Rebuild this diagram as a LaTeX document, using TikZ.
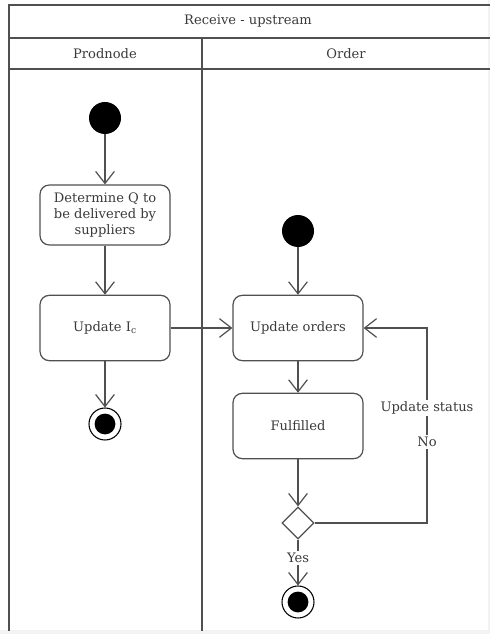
\documentclass[tikz,border=0pt]{standalone}
\usepackage{fontspec}
\setmainfont{DejaVu Serif}
\usetikzlibrary{arrows.meta,shapes.geometric}
\definecolor{ink}{HTML}{505050}
\definecolor{txt}{HTML}{3A3A3A}
\definecolor{edge}{HTML}{F3F3F3}
\tikzset{
  lane/.style={draw=ink, line width=1.1pt},
  act/.style={draw=ink, line width=0.9pt, rounded corners=7pt, fill=white,
    minimum width=97.5pt, text=txt, align=center, font=\fontsize{9.8}{12.2}\selectfont},
  startdot/.style={circle, fill=black, minimum size=24pt, inner sep=0pt},
  enddot/.style={circle, draw=black, line width=0.8pt, fill=white, minimum size=24pt, inner sep=0pt,
    path picture={\fill[black] (path picture bounding box.center) circle (7.8pt);}},
  choice/.style={diamond, draw=ink, line width=0.9pt, fill=white, minimum size=24pt, inner sep=0pt},
  flow/.style={draw=ink, line width=0.9pt, -{Straight Barb[length=9pt,width=14pt,line width=0.9pt]}},
  lbl/.style={text=txt, fill=white, inner sep=1.5pt, font=\fontsize{9.8}{12}\selectfont},
  hdr/.style={text=txt, font=\fontsize{9.8}{12}\selectfont}
}
\begin{document}
\begin{tikzpicture}[x=0.75pt, y=-0.75pt]
  \useasboundingbox (0,0) rectangle (490,634);
  \fill[white] (0,0) rectangle (490,634);
  % faint page edges
  \fill[edge] (0,630) rectangle (490,634);
  \fill[edge] (488,0) rectangle (490,634);

  % swimlane frame
  \draw[lane] (490,5) -- (9,5) -- (9,631);
  \draw[lane] (9,38) -- (490,38);
  \draw[lane] (9,69) -- (490,69);
  \draw[lane] (202,38) -- (202,631);
  \node[hdr] (title) at (248,21) {Receive - upstream};
  \node[hdr] (laneP) at (105,54) {Prodnode};
  \node[hdr] (laneO) at (346,54) {Order};

  % Prodnode lane
  \node[startdot] (s1) at (105,118) {};
  \node[act, minimum height=45pt] (det) at (105,215) {Determine Q to\\be delivered by\\suppliers};
  \node[act, minimum height=49pt] (upd) at (105,328) {Update I\textsubscript{c}};
  \node[enddot] (e1) at (105,424) {};

  % Order lane
  \node[startdot] (s2) at (298,231) {};
  \node[act, minimum height=49pt] (ord) at (298,328) {Update orders};
  \node[act, minimum height=49pt] (ful) at (298,426) {Fulfilled};
  \node[choice] (dec) at (298,523) {};
  \node[enddot] (e2) at (298,602) {};
  \coordinate (cor1) at (427,523);
  \coordinate (cor2) at (427,328);

  % flows
  \draw[flow] (s1) -- (det);
  \draw[flow] (det) -- (upd);
  \draw[flow] (upd) -- (e1);
  \draw[flow] (upd) -- (ord);
  \draw[flow] (s2) -- (ord);
  \draw[flow] (ord) -- (ful);
  \draw[flow] (ful) -- (dec);
  \draw[flow] (dec) -- node[lbl, pos=0.4] (yes) {Yes} (e2);
  \draw[flow] (dec.east) -- (cor1) -- (cor2) -- (ord.east);
  \node[lbl] (upst) at (427,408) {Update status};
  \node[lbl] (no) at (427,442) {No};
\end{tikzpicture}
\end{document}
